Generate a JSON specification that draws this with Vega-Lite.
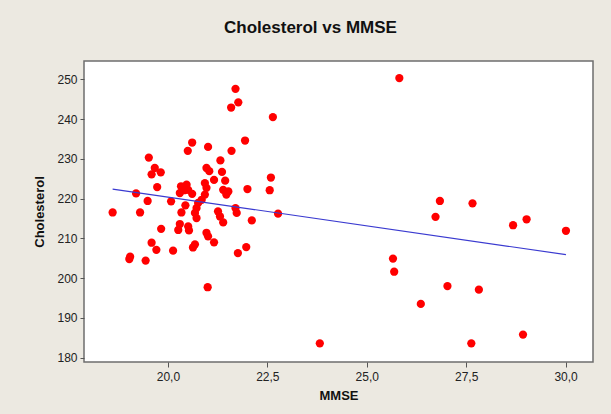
{
  "$schema": "https://vega.github.io/schema/vega-lite/v6.json",
  "width": 509,
  "height": 301,
  "autosize": {"type": "none"},
  "padding": {"left": 84, "top": 61, "right": 18, "bottom": 52},
  "background": "#ECE9E1",
  "title": {
    "text": "Cholesterol vs MMSE",
    "font": "Liberation Sans",
    "fontSize": 17,
    "fontWeight": "bold",
    "color": "#111111",
    "anchor": "middle",
    "baseline": "alphabetic",
    "offset": 11,
    "dx": -28
  },
  "config": {
    "view": {"stroke": "#6e6e6e", "strokeWidth": 1.5, "fill": "#ffffff"},
    "axis": {
      "labelFont": "Liberation Sans",
      "labelFontSize": 12,
      "labelColor": "#222222",
      "titleFont": "Liberation Sans",
      "titleFontSize": 13,
      "titleFontWeight": "bold",
      "titleColor": "#111111",
      "domain": false,
      "grid": false,
      "tickColor": "#555555",
      "tickSize": 4
    }
  },
  "datasets": {
    "points": [
      {"MMSE": 21.70, "Cholesterol": 247.6},
      {"MMSE": 21.77, "Cholesterol": 244.2},
      {"MMSE": 21.59, "Cholesterol": 242.9},
      {"MMSE": 22.64, "Cholesterol": 240.5},
      {"MMSE": 20.61, "Cholesterol": 234.1},
      {"MMSE": 20.50, "Cholesterol": 232.0},
      {"MMSE": 21.01, "Cholesterol": 233.0},
      {"MMSE": 21.94, "Cholesterol": 234.6},
      {"MMSE": 21.60, "Cholesterol": 232.0},
      {"MMSE": 19.52, "Cholesterol": 230.3},
      {"MMSE": 21.32, "Cholesterol": 229.6},
      {"MMSE": 19.67, "Cholesterol": 227.7},
      {"MMSE": 19.59, "Cholesterol": 226.1},
      {"MMSE": 19.82, "Cholesterol": 226.6},
      {"MMSE": 20.97, "Cholesterol": 227.7},
      {"MMSE": 21.04, "Cholesterol": 226.9},
      {"MMSE": 21.36, "Cholesterol": 226.7},
      {"MMSE": 21.16, "Cholesterol": 224.7},
      {"MMSE": 21.44, "Cholesterol": 224.5},
      {"MMSE": 22.59, "Cholesterol": 225.3},
      {"MMSE": 22.56, "Cholesterol": 222.1},
      {"MMSE": 22.00, "Cholesterol": 222.4},
      {"MMSE": 19.73, "Cholesterol": 222.9},
      {"MMSE": 20.33, "Cholesterol": 223.1},
      {"MMSE": 20.47, "Cholesterol": 223.5},
      {"MMSE": 20.41, "Cholesterol": 222.1},
      {"MMSE": 20.30, "Cholesterol": 221.4},
      {"MMSE": 20.51, "Cholesterol": 222.2},
      {"MMSE": 20.61, "Cholesterol": 221.2},
      {"MMSE": 20.93, "Cholesterol": 223.9},
      {"MMSE": 20.97, "Cholesterol": 222.7},
      {"MMSE": 20.93, "Cholesterol": 221.0},
      {"MMSE": 20.85, "Cholesterol": 219.7},
      {"MMSE": 20.76, "Cholesterol": 218.9},
      {"MMSE": 20.72, "Cholesterol": 217.6},
      {"MMSE": 20.68, "Cholesterol": 216.4},
      {"MMSE": 20.72, "Cholesterol": 215.1},
      {"MMSE": 21.39, "Cholesterol": 222.2},
      {"MMSE": 21.52, "Cholesterol": 221.8},
      {"MMSE": 21.47, "Cholesterol": 221.0},
      {"MMSE": 19.20, "Cholesterol": 221.3},
      {"MMSE": 20.08, "Cholesterol": 219.3},
      {"MMSE": 19.49, "Cholesterol": 219.4},
      {"MMSE": 20.44, "Cholesterol": 218.3},
      {"MMSE": 20.34, "Cholesterol": 216.5},
      {"MMSE": 21.26, "Cholesterol": 216.8},
      {"MMSE": 21.31, "Cholesterol": 215.5},
      {"MMSE": 21.39, "Cholesterol": 214.0},
      {"MMSE": 21.70, "Cholesterol": 217.6},
      {"MMSE": 21.73, "Cholesterol": 216.4},
      {"MMSE": 18.61, "Cholesterol": 216.5},
      {"MMSE": 19.30, "Cholesterol": 216.5},
      {"MMSE": 22.77, "Cholesterol": 216.2},
      {"MMSE": 22.11, "Cholesterol": 214.5},
      {"MMSE": 19.83, "Cholesterol": 212.4},
      {"MMSE": 20.30, "Cholesterol": 213.6},
      {"MMSE": 20.26, "Cholesterol": 212.1},
      {"MMSE": 20.51, "Cholesterol": 213.0},
      {"MMSE": 20.53, "Cholesterol": 212.0},
      {"MMSE": 20.97, "Cholesterol": 211.4},
      {"MMSE": 21.01, "Cholesterol": 210.5},
      {"MMSE": 21.16, "Cholesterol": 209.0},
      {"MMSE": 19.59, "Cholesterol": 208.9},
      {"MMSE": 19.71, "Cholesterol": 207.1},
      {"MMSE": 20.13, "Cholesterol": 206.9},
      {"MMSE": 20.68, "Cholesterol": 208.5},
      {"MMSE": 20.63, "Cholesterol": 207.7},
      {"MMSE": 21.97, "Cholesterol": 207.8},
      {"MMSE": 21.76, "Cholesterol": 206.3},
      {"MMSE": 19.05, "Cholesterol": 205.4},
      {"MMSE": 19.03, "Cholesterol": 204.8},
      {"MMSE": 19.44, "Cholesterol": 204.4},
      {"MMSE": 21.00, "Cholesterol": 197.7},
      {"MMSE": 25.82, "Cholesterol": 250.3},
      {"MMSE": 26.84, "Cholesterol": 219.4},
      {"MMSE": 27.66, "Cholesterol": 218.8},
      {"MMSE": 26.73, "Cholesterol": 215.4},
      {"MMSE": 28.68, "Cholesterol": 213.3},
      {"MMSE": 29.02, "Cholesterol": 214.8},
      {"MMSE": 30.01, "Cholesterol": 211.9},
      {"MMSE": 25.66, "Cholesterol": 204.9},
      {"MMSE": 25.69, "Cholesterol": 201.6},
      {"MMSE": 27.03, "Cholesterol": 198.0},
      {"MMSE": 27.82, "Cholesterol": 197.1},
      {"MMSE": 26.36, "Cholesterol": 193.5},
      {"MMSE": 28.93, "Cholesterol": 185.8},
      {"MMSE": 27.63, "Cholesterol": 183.6},
      {"MMSE": 23.82, "Cholesterol": 183.6}
    ],
    "fit": [
      {"MMSE": 18.61, "Cholesterol": 222.4},
      {"MMSE": 30.01, "Cholesterol": 205.9}
    ]
  },
  "layer": [
    {
      "data": {"name": "points"},
      "mark": {"type": "circle", "size": 68, "color": "#ff0000", "opacity": 1},
      "encoding": {
        "x": {
          "field": "MMSE",
          "type": "quantitative",
          "title": "MMSE",
          "scale": {"domain": [17.89, 30.69], "nice": false, "zero": false},
          "axis": {
            "values": [20, 22.5, 25, 27.5, 30],
            "labelExpr": "replace(format(datum.value, '.1f'), '.', ',')",
            "tickSize": 5,
            "labelPadding": 4,
            "titlePadding": 7
          }
        },
        "y": {
          "field": "Cholesterol",
          "type": "quantitative",
          "title": "Cholesterol",
          "scale": {"domain": [178.9, 254.6], "nice": false, "zero": false},
          "axis": {
            "values": [180, 190, 200, 210, 220, 230, 240, 250],
            "tickSize": 4,
            "labelPadding": 3,
            "titlePadding": 10
          }
        }
      }
    },
    {
      "data": {"name": "fit"},
      "mark": {"type": "line", "color": "#3a3ad0", "strokeWidth": 1.2},
      "encoding": {
        "x": {"field": "MMSE", "type": "quantitative"},
        "y": {"field": "Cholesterol", "type": "quantitative"}
      }
    }
  ]
}
